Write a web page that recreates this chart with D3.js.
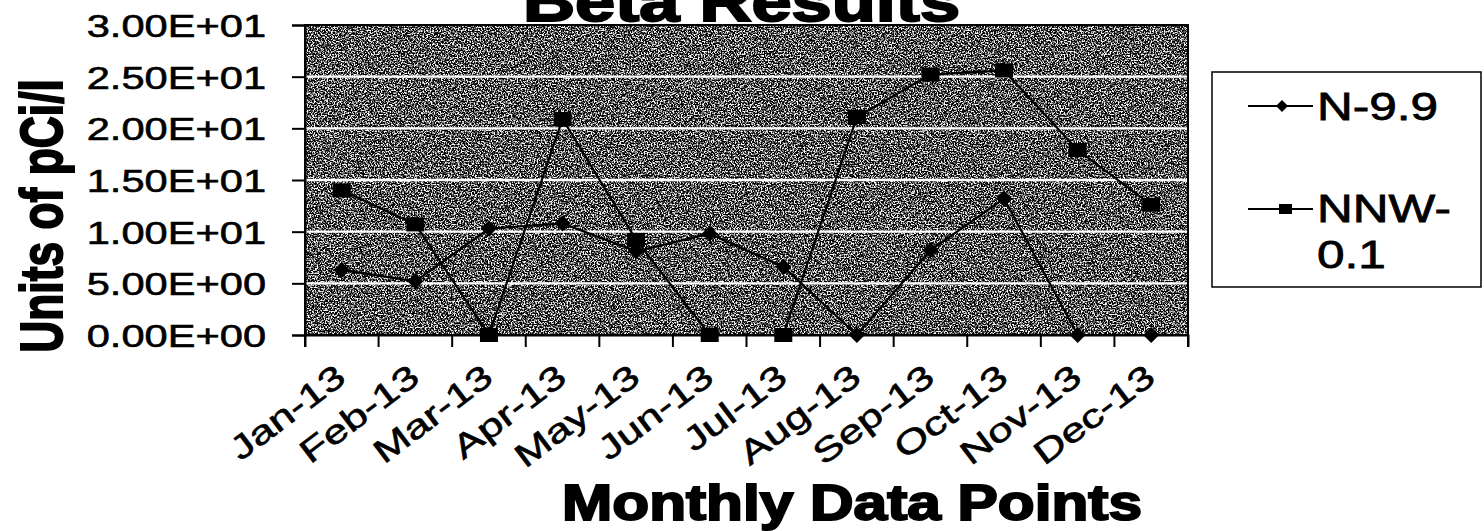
<!DOCTYPE html>
<html>
<head>
<meta charset="utf-8">
<script src="https://cdn.jsdelivr.net/npm/d3@7"></script>
<style>
  html, body { margin: 0; padding: 0; background: #fff; }
  svg { display: block; }
  text { font-family: "Liberation Sans", Arial, sans-serif; fill: #000; }
</style>
</head>
<body>
<svg id="chart" width="1484" height="531"></svg>
<script>
// ---- data ----
const months = ["Jan-13","Feb-13","Mar-13","Apr-13","May-13","Jun-13","Jul-13","Aug-13","Sep-13","Oct-13","Nov-13","Dec-13"];
const seriesN99 = [6.3, 5.2, 10.3, 10.8, 8.1, 9.8, 6.6, 0, 8.2, 13.2, 0, 0];
const seriesNNW01 = [14.0, 10.7, 0, 20.9, 9.2, 0, 0, 21.1, 25.2, 25.6, 17.9, 12.6];
const seriesNames = ["N-9.9", "NNW-0.1"];
const yTickValues = [0, 5, 10, 15, 20, 25, 30];
const yTickLabels = ["0.00E+00","5.00E+00","1.00E+01","1.50E+01","2.00E+01","2.50E+01","3.00E+01"];
const chartTitle = "Beta Results";
const xTitle = "Monthly Data Points";
const yTitle = "Units of pCi/l";

// ---- layout ----
const svg = d3.select("#chart");
const L = 305, R = 1188, T = 25, B = 335;
const STRETCH = 1.3;

const x = d3.scaleBand().domain(months).range([L, R]).padding(0);
const y = d3.scaleLinear().domain([0, 30]).range([B, T]);
const cx = d => x(d) + x.bandwidth() / 2;

const defs = svg.append("defs");
const f = defs.append("filter").attr("id", "noise")
  .attr("x", 0).attr("y", 0).attr("width", "100%").attr("height", "100%")
  .attr("color-interpolation-filters", "sRGB");
f.append("feTurbulence").attr("type", "fractalNoise").attr("baseFrequency", 0.7)
  .attr("numOctaves", 2).attr("seed", 7).attr("result", "t");
f.append("feColorMatrix").attr("in", "t").attr("type", "matrix")
  .attr("values", "4.5 0 0 0 -1.95  4.5 0 0 0 -1.95  4.5 0 0 0 -1.95  0 0 0 0 1");

// plot background
svg.append("rect").attr("x", L).attr("y", T).attr("width", R - L).attr("height", B - T)
  .attr("fill", "#555");
svg.append("rect").attr("x", L).attr("y", T).attr("width", R - L).attr("height", B - T)
  .attr("filter", "url(#noise)").attr("fill", "#555");

// gridlines
svg.append("g").selectAll("line").data(yTickValues.filter(v => v > 0 && v < 30)).join("line")
  .attr("x1", L).attr("x2", R).attr("y1", d => y(d)).attr("y2", d => y(d))
  .attr("stroke", "#fff").attr("stroke-width", 2.4);

// plot border
svg.append("rect").attr("x", L).attr("y", T).attr("width", R - L).attr("height", B - T)
  .attr("fill", "none").attr("stroke", "#000").attr("stroke-width", 2);

// y axis
const yAxis = d3.axisLeft(y).tickValues(yTickValues)
  .tickFormat((d, i) => yTickLabels[i]).tickSize(13).tickPadding(26);
const gy = svg.append("g").attr("transform", `translate(${L},0)`).call(yAxis);
gy.select(".domain").attr("stroke", "#000").attr("stroke-width", 2);
gy.selectAll(".tick line").attr("stroke", "#000").attr("stroke-width", 2);
gy.selectAll(".tick text").attr("font-size", 32).attr("font-family", "Liberation Sans, Arial, sans-serif")
  .attr("fill", "#000").attr("stroke", "#000").attr("stroke-width", 0.6)
  .attr("dy", "0.36em")
  .each(function () {
    const w = this.getComputedTextLength();
    d3.select(this).attr("textLength", w * STRETCH).attr("lengthAdjust", "spacingAndGlyphs");
  });

// x axis (ticks at category boundaries)
const xAxis = d3.axisBottom(x).tickSize(12).tickFormat("");
const gx = svg.append("g").attr("transform", `translate(0,${B})`).call(xAxis);
gx.select(".domain").attr("stroke", "#000").attr("stroke-width", 2);
gx.selectAll(".tick line").attr("stroke", "#000").attr("stroke-width", 2)
  .attr("transform", `translate(${-x.bandwidth() / 2},0)`);
gx.append("line").attr("x1", R).attr("x2", R).attr("y1", 0).attr("y2", 12)
  .attr("stroke", "#000").attr("stroke-width", 2);

// x labels rotated
svg.append("g").selectAll("text").data(months).join("text")
  .attr("text-anchor", "end")
  .attr("transform", d => `translate(${cx(d) + 6},${B + 46}) rotate(-37)`)
  .attr("font-size", 33).attr("stroke", "#000").attr("stroke-width", 0.6)
  .text(d => d)
  .each(function () {
    const w = this.getComputedTextLength();
    d3.select(this).attr("textLength", w * 1.33).attr("lengthAdjust", "spacingAndGlyphs");
  });

// lines + markers
const line = d3.line().x((d, i) => cx(months[i])).y(d => y(d));
svg.append("path").datum(seriesN99).attr("d", line)
  .attr("fill", "none").attr("stroke", "#000").attr("stroke-width", 2.2);
svg.append("path").datum(seriesNNW01).attr("d", line)
  .attr("fill", "none").attr("stroke", "#000").attr("stroke-width", 2.2);

const diamond = (s) => `M0,${-s}L${s},0L0,${s}L${-s},0Z`;
svg.append("g").selectAll("path").data(seriesN99).join("path")
  .attr("transform", (d, i) => `translate(${cx(months[i])},${y(d)})`)
  .attr("d", diamond(8)).attr("fill", "#000");
svg.append("g").selectAll("rect").data(seriesNNW01).join("rect")
  .attr("x", (d, i) => cx(months[i]) - 9).attr("y", d => y(d) - 7)
  .attr("width", 18).attr("height", 14).attr("fill", "#000");

// titles
svg.append("text").attr("x", 523).attr("y", 21).attr("font-size", 58).attr("font-weight", "bold")
  .attr("stroke", "#000").attr("stroke-width", 2)
  .attr("textLength", 437).attr("lengthAdjust", "spacingAndGlyphs").text(chartTitle);

svg.append("text").attr("x", 562).attr("y", 520).attr("font-size", 50).attr("font-weight", "bold")
  .attr("stroke", "#000").attr("stroke-width", 2)
  .attr("textLength", 580).attr("lengthAdjust", "spacingAndGlyphs").text(xTitle);

svg.append("text").attr("text-anchor", "middle")
  .attr("transform", "translate(62,216) rotate(-90) scale(0.74,1)")
  .attr("font-size", 60).attr("font-weight", "bold")
  .attr("stroke", "#000").attr("stroke-width", 2)
  .text(yTitle);

// legend
const lg = svg.append("g");
lg.append("rect").attr("x", 1212).attr("y", 72).attr("width", 269).attr("height", 215)
  .attr("fill", "#fff").attr("stroke", "#000").attr("stroke-width", 1.5);
const legendRows = [
  { name: seriesNames[0], lines: ["N-9.9"], ly: 106, ty: [120], marker: "diamond" },
  { name: seriesNames[1], lines: ["NNW-", "0.1"], ly: 209, ty: [222, 268], marker: "square" }
];
legendRows.forEach(r => {
  lg.append("line").attr("x1", 1248).attr("x2", 1313).attr("y1", r.ly).attr("y2", r.ly)
    .attr("stroke", "#000").attr("stroke-width", 2);
  if (r.marker === "diamond") {
    lg.append("path").attr("transform", `translate(1282,${r.ly})`).attr("d", diamond(6)).attr("fill", "#000");
  } else {
    lg.append("rect").attr("x", 1279).attr("y", r.ly - 5).attr("width", 13).attr("height", 10).attr("fill", "#000");
  }
  r.lines.forEach((t, i) => {
    lg.append("text").attr("x", 1317).attr("y", r.ty[i]).attr("font-size", 39)
      .attr("stroke", "#000").attr("stroke-width", 0.8)
      .text(t)
      .each(function () {
        const w = this.getComputedTextLength();
        d3.select(this).attr("textLength", w * 1.27).attr("lengthAdjust", "spacingAndGlyphs");
      });
  });
});
</script>
</body>
</html>
